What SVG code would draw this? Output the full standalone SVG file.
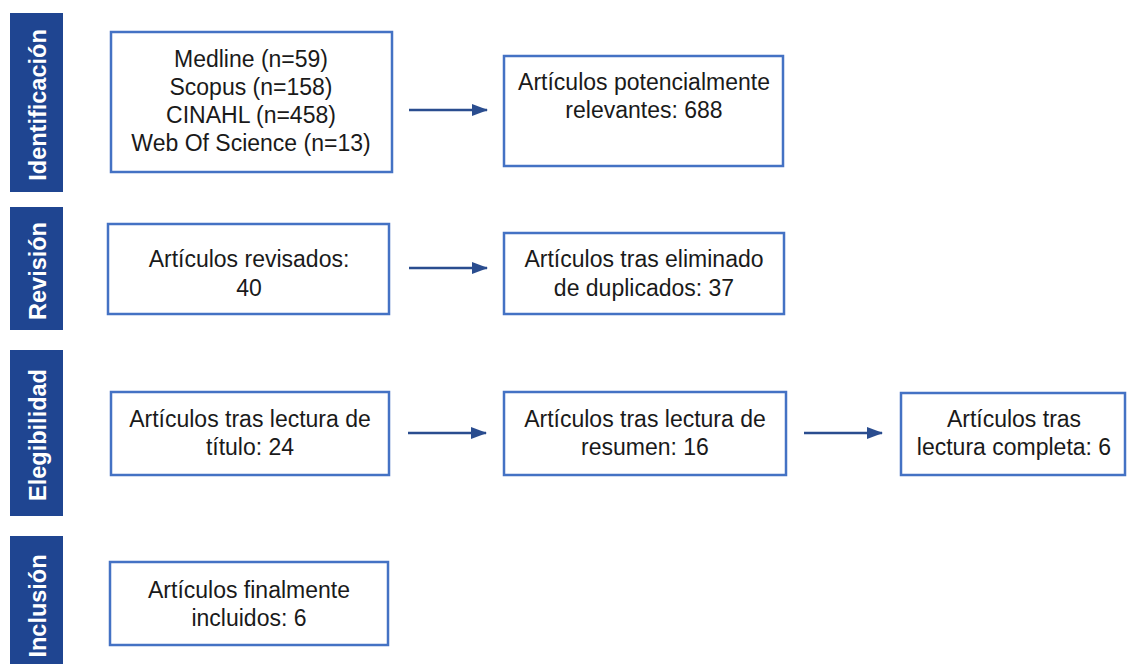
<svg xmlns="http://www.w3.org/2000/svg" width="1127" height="664" viewBox="0 0 1127 664">
<style>
.bar{fill:#1f4591}
.bt{fill:#ffffff;font-family:"Liberation Sans",Arial,sans-serif;font-weight:bold;font-size:23.5px;text-anchor:middle}
.box{fill:#ffffff;stroke:#4472c4;stroke-width:2.5}
.t{fill:#1a1a1a;font-family:"Liberation Sans",Arial,sans-serif;font-size:23px;text-anchor:middle}
.arr{stroke:#2a4d8f;stroke-width:2.5;fill:none;marker-end:url(#ah)}
</style>
<defs>
<marker id="ah" viewBox="0 0 16 12" refX="15" refY="6" markerWidth="16" markerHeight="12" markerUnits="userSpaceOnUse" orient="auto">
<path d="M0,0 L16,6 L0,12 Z" fill="#2a4d8f"/>
</marker>
</defs>
<rect width="1127" height="664" fill="#ffffff"/>
<g id="phase-identificacion">
<rect class="bar" x="10" y="13" width="53" height="179"/>
<text class="bt" transform="translate(46,105) rotate(-90)">Identificación</text>
</g>
<g id="phase-revision">
<rect class="bar" x="10" y="207" width="53" height="123"/>
<text class="bt" transform="translate(46,271) rotate(-90)">Revisión</text>
</g>
<g id="phase-elegibilidad">
<rect class="bar" x="10" y="350" width="53" height="166"/>
<text class="bt" transform="translate(46,435) rotate(-90)">Elegibilidad</text>
</g>
<g id="phase-inclusion">
<rect class="bar" x="10" y="536" width="53" height="140"/>
<text class="bt" transform="translate(46,606) rotate(-90)">Inclusión</text>
</g>
<g id="n-databases">
<rect class="box" x="111" y="32" width="281" height="140"/>
<text class="t" x="251" y="67">Medline (n=59)</text>
<text class="t" x="251" y="95">Scopus (n=158)</text>
<text class="t" x="251" y="123">CINAHL (n=458)</text>
<text class="t" x="251" y="151">Web Of Science (n=13)</text>
</g>
<g id="n-potenciales">
<rect class="box" x="504" y="56" width="279" height="110"/>
<text class="t" x="644" y="90">Artículos potencialmente</text>
<text class="t" x="644" y="118">relevantes: 688</text>
</g>
<g id="n-revisados">
<rect class="box" x="108" y="224" width="281" height="90"/>
<text class="t" x="249" y="267">Artículos revisados:</text>
<text class="t" x="249" y="296">40</text>
</g>
<g id="n-duplicados">
<rect class="box" x="504" y="233" width="280" height="81"/>
<text class="t" x="644" y="267">Artículos tras eliminado</text>
<text class="t" x="644" y="296">de duplicados: 37</text>
</g>
<g id="n-titulo">
<rect class="box" x="111" y="392" width="278" height="83"/>
<text class="t" x="250" y="427">Artículos tras lectura de</text>
<text class="t" x="250" y="455">título: 24</text>
</g>
<g id="n-resumen">
<rect class="box" x="504" y="392" width="282" height="83"/>
<text class="t" x="645" y="427">Artículos tras lectura de</text>
<text class="t" x="645" y="455">resumen: 16</text>
</g>
<g id="n-completa">
<rect class="box" x="901" y="393" width="224" height="82"/>
<text class="t" x="1014" y="427">Artículos tras</text>
<text class="t" x="1014" y="455">lectura completa: 6</text>
</g>
<g id="n-incluidos">
<rect class="box" x="110" y="562" width="278" height="83"/>
<text class="t" x="249" y="598">Artículos finalmente</text>
<text class="t" x="249" y="626">incluidos: 6</text>
</g>
<g id="connectors">
<line class="arr" x1="409" y1="110" x2="487" y2="110"/>
<line class="arr" x1="409" y1="268" x2="487" y2="268"/>
<line class="arr" x1="408" y1="433" x2="486" y2="433"/>
<line class="arr" x1="804" y1="433" x2="882" y2="433"/>
</g>
</svg>
